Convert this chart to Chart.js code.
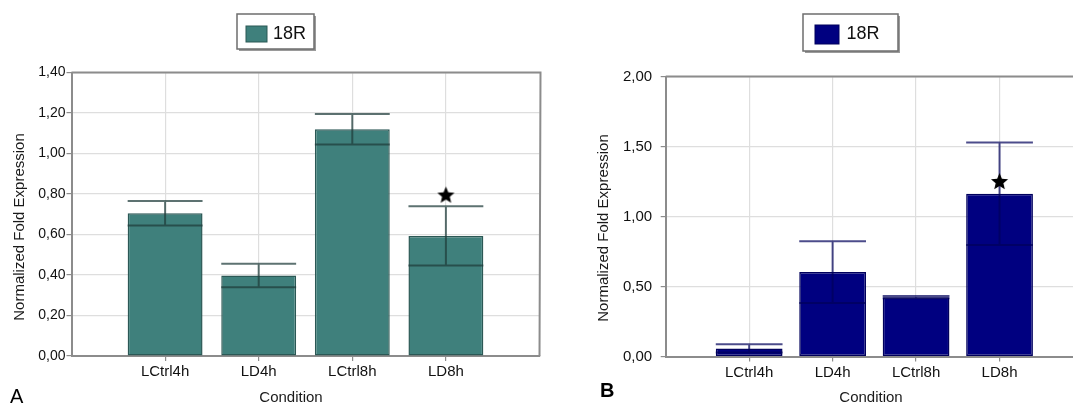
<!DOCTYPE html>
<html>
<head>
<meta charset="utf-8">
<script src="https://cdn.jsdelivr.net/npm/chart.js@4.4.1/dist/chart.umd.min.js"></script>
<style>
html, body { margin: 0; padding: 0; background: #fff; overflow: hidden; width: 1073px; height: 403px; }
canvas { position: absolute; top: 0; }
#chartA { left: 0; }
#chartB { left: 533px; }
</style>
</head>
<body>
<canvas id="chartA" width="545" height="403"></canvas>
<canvas id="chartB" width="560" height="403"></canvas>
<script>
// données
const conditions = ['LCtrl4h', 'LD4h', 'LCtrl8h', 'LD8h'];
const seriesName = '18R';

// panneau A
const valuesA = [0.705, 0.397, 1.12, 0.593];
const errorsA = [0.06, 0.058, 0.075, 0.146];
const starA = [null, null, null, 0.795];
const yTicksA = [0, 0.2, 0.4, 0.6, 0.8, 1.0, 1.2, 1.4];

// panneau B
const valuesB = [0.058, 0.603, 0.424, 1.162];
const errorsB = [0.03, 0.22, 0.008, 0.366];
const starB = [null, null, null, 1.25];
const yTicksB = [0, 0.5, 1.0, 1.5, 2.0];

const FONT = 'Liberation Sans, Arial, sans-serif';

// étoile pleine utilisée comme pointStyle
function makeStar(size) {
    const c = document.createElement('canvas');
    c.width = c.height = size;
    const g = c.getContext('2d');
    const cx = size / 2, cy = size / 2 + 0.5, R = size / 2 - 0.5, r = R * 0.45;
    g.beginPath();
    for (let i = 0; i < 10; i++) {
        const a = -Math.PI / 2 + i * Math.PI / 5;
        const rad = i % 2 ? r : R;
        g.lineTo(cx + rad * Math.cos(a), cy + rad * Math.sin(a));
    }
    g.closePath();
    g.fillStyle = '#000';
    g.fill();
    return c;
}
const starImg = makeStar(19);

// barres d'erreur (dessinées juste après les barres)
const errorBars = {
    id: 'errorBars',
    afterDatasetDraw(chart, args, opts) {
        if (args.index !== 0) return;
        const ds = chart.data.datasets[0];
        const y = chart.scales.y;
        const ctx = chart.ctx;
        ctx.save();
        ctx.strokeStyle = opts.color;
        ctx.lineWidth = 2;
        args.meta.data.forEach((bar, i) => {
            const v = ds.data[i];
            if (v == null) return;
            const hi = y.getPixelForValue(v + ds.errors[i]);
            const lo = y.getPixelForValue(v - ds.errors[i]);
            const half = bar.width / 2;
            ctx.beginPath();
            ctx.moveTo(bar.x - half, hi); ctx.lineTo(bar.x + half, hi);
            ctx.moveTo(bar.x - half, lo); ctx.lineTo(bar.x + half, lo);
            ctx.moveTo(bar.x, hi); ctx.lineTo(bar.x, lo);
            ctx.stroke();
        });
        ctx.restore();
    }
};

// cadre, légende encadrée, titres d'axes et lettre du panneau
const decor = {
    id: 'decor',
    beforeDatasetsDraw(chart, args, o) {
        const {ctx, chartArea: a} = chart;
        ctx.save();
        ctx.strokeStyle = '#8c8c8c';
        ctx.lineWidth = 2;
        ctx.beginPath();
        ctx.moveTo(a.left, a.top);
        ctx.lineTo(a.right + 1, a.top);
        if (o.rightBorder) ctx.lineTo(a.right, a.bottom);
        ctx.stroke();
        ctx.restore();
    },
    afterDraw(chart, args, o) {
        const ctx = chart.ctx;
        const ds = chart.data.datasets[0];
        ctx.save();
        // légende
        const L = o.legend;
        ctx.fillStyle = '#9a9a9a';
        ctx.fillRect(L.x + 2, L.y + 2, L.w, L.h);
        ctx.fillStyle = '#fff';
        ctx.fillRect(L.x, L.y, L.w, L.h);
        ctx.strokeStyle = '#6e6e6e';
        ctx.lineWidth = 1.5;
        ctx.strokeRect(L.x, L.y, L.w, L.h);
        ctx.fillStyle = ds.backgroundColor;
        ctx.fillRect(L.sx, L.sy, L.sw, L.sh);
        ctx.strokeStyle = ds.borderColor;
        ctx.lineWidth = 1;
        ctx.strokeRect(L.sx, L.sy, L.sw, L.sh);
        ctx.fillStyle = '#111';
        ctx.font = '18px ' + FONT;
        ctx.textBaseline = 'middle';
        ctx.textAlign = 'left';
        ctx.fillText(ds.label, L.tx, L.ty);
        // titres
        ctx.fillStyle = '#1a1a1a';
        ctx.font = '15px ' + FONT;
        ctx.textAlign = 'center';
        ctx.textBaseline = 'alphabetic';
        ctx.fillText('Condition', o.xTitle[0], o.xTitle[1]);
        ctx.save();
        ctx.translate(o.yTitle[0], o.yTitle[1]);
        ctx.rotate(-Math.PI / 2);
        ctx.textBaseline = 'middle';
        ctx.fillText('Normalized Fold Expression', 0, 0);
        ctx.restore();
        // lettre du panneau
        ctx.fillStyle = '#000';
        ctx.font = o.letterFont + ' ' + FONT;
        ctx.textAlign = 'left';
        ctx.textBaseline = 'alphabetic';
        ctx.fillText(o.letter, o.letterPos[0], o.letterPos[1]);
        ctx.restore();
    }
};

const fmt = v => v.toFixed(2).replace('.', ',');

function makeChart(id, p) {
    const labels = ['', ...conditions, ''];
    const edge = c => (c.index === 0 || c.index === labels.length - 1);
    return new Chart(document.getElementById(id), {
        type: 'bar',
        data: {
            labels: labels,
            datasets: [{
                label: seriesName,
                data: [null, ...p.values, null],
                errors: [null, ...p.errors, null],
                backgroundColor: p.color,
                borderColor: p.border,
                borderWidth: 1.5,
                borderSkipped: false,
                categoryPercentage: 0.8,
                barPercentage: 1.0
            }, {
                type: 'line',
                label: 'star',
                data: [null, ...p.star, null],
                showLine: false,
                pointStyle: starImg,
                order: -1
            }]
        },
        options: {
            responsive: false,
            animation: false,
            layout: { padding: p.padding },
            plugins: {
                legend: { display: false },
                tooltip: { enabled: false },
                errorBars: { color: p.errColor },
                decor: p.decor
            },
            scales: {
                x: {
                    offset: false,
                    afterFit: s => { s.height = 30; },
                    grid: {
                        offset: false,
                        color: c => edge(c) ? 'rgba(0,0,0,0)' : '#dedede',
                        tickColor: c => edge(c) ? 'rgba(0,0,0,0)' : '#8c8c8c',
                        tickLength: 5,
                        lineWidth: 1.2
                    },
                    border: { color: '#8c8c8c', width: 2 },
                    ticks: {
                        autoSkip: false, maxRotation: 0, padding: 2,
                        color: '#111', font: { family: FONT, size: 15 }
                    }
                },
                y: {
                    min: 0,
                    max: p.yTicks[p.yTicks.length - 1],
                    afterFit: s => { s.width = p.yWidth; },
                    afterBuildTicks: s => { s.ticks = p.yTicks.map(v => ({ value: v })); },
                    grid: { color: '#dedede', tickColor: '#8c8c8c', tickLength: 5, lineWidth: 1.2 },
                    border: { color: '#8c8c8c', width: 2 },
                    ticks: {
                        padding: p.yPad,
                        color: '#111',
                        font: { family: FONT, size: p.yFont },
                        callback: v => fmt(v)
                    }
                }
            }
        },
        plugins: [errorBars, decor]
    });
}

makeChart('chartA', {
    values: valuesA, errors: errorsA, star: starA, yTicks: yTicksA,
    color: '#3f807c', border: '#2b5855', errColor: 'rgba(30,60,58,0.72)',
    padding: { left: 0, right: 5.5, top: 72.5, bottom: 17 },
    yWidth: 71.5, yPad: 1, yFont: 14,
    decor: {
        rightBorder: true,
        legend: { x: 237, y: 14, w: 77, h: 35, sx: 246, sy: 26, sw: 21, sh: 16, tx: 273, ty: 34 },
        xTitle: [291, 402], yTitle: [19.5, 227],
        letter: 'A', letterFont: '20px', letterPos: [10, 402.5]
    }
});

makeChart('chartB', {
    values: valuesB, errors: errorsB, star: starB, yTicks: yTicksB,
    color: '#000080', border: '#00005c', errColor: 'rgba(0,0,90,0.7)',
    padding: { left: 0, right: 10, top: 76.5, bottom: 16.5 },
    yWidth: 132.7, yPad: 8.5, yFont: 15,
    decor: {
        rightBorder: false,
        legend: { x: 270, y: 14, w: 95, h: 37, sx: 282, sy: 25, sw: 24, sh: 19, tx: 313.5, ty: 34.5 },
        xTitle: [338, 401.5], yTitle: [71, 228],
        letter: 'B', letterFont: 'bold 20px', letterPos: [67, 397]
    }
});
</script>
</body>
</html>
